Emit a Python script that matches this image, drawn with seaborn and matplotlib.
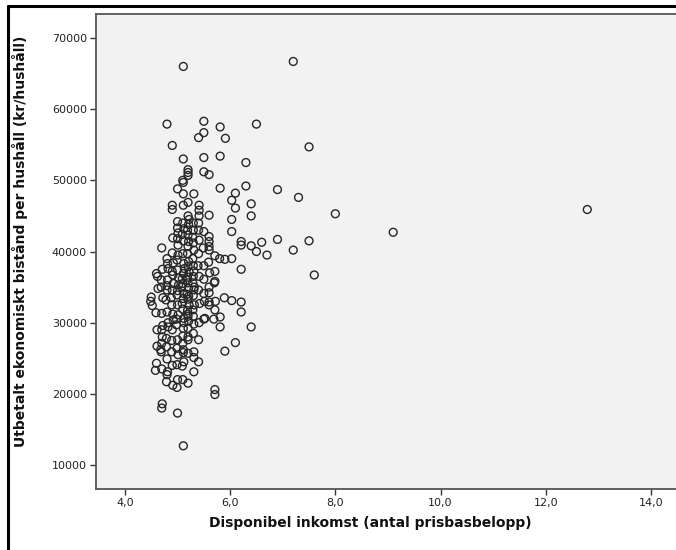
import matplotlib
matplotlib.use("Agg")
import matplotlib.pyplot as plt
from matplotlib.lines import Line2D
import seaborn as sns
import pandas as pd

# ---------------- data ----------------
inkomst = [
    # ~4.5
    4.50, 4.52, 4.49,
    # ~4.6
    4.60, 4.62, 4.59, 4.61, 4.60, 4.58, 4.61, 4.63,
    # ~4.7
    4.70, 4.71, 4.69, 4.70, 4.72, 4.70, 4.69, 4.71, 4.70, 4.68, 4.71, 4.70, 4.72, 4.69, 4.70,
    # ~4.8
    4.80, 4.80, 4.82, 4.79, 4.80, 4.81, 4.80, 4.79, 4.82, 4.80, 4.81, 4.78, 4.80, 4.82, 4.79, 4.81, 4.80,
    # ~4.9
    4.90, 4.90, 4.90, 4.91, 4.90, 4.92, 4.89, 4.90, 4.91, 4.90, 4.92, 4.89, 4.90, 4.91, 4.88, 4.92, 4.90, 4.89, 4.91,
    # ~5.0
    5.00, 5.00, 5.00, 5.01, 5.00, 4.99, 5.00, 5.01, 4.99, 5.00, 5.02, 4.99, 5.00, 5.01, 4.98, 5.00, 5.01, 4.99, 5.02, 5.00, 4.98, 5.01, 5.00, 4.99,
    # ~5.1
    5.11, 5.11, 5.10, 5.11, 5.11, 5.11, 5.10, 5.12, 5.09, 5.11, 5.10, 5.12, 5.11, 5.09, 5.10, 5.12, 5.11, 5.09, 5.10, 5.12,
    5.11, 5.10, 5.11, 5.12, 5.09, 5.10, 5.11, 5.13, 5.08, 5.12, 5.10, 5.11,
    # ~5.2
    5.20, 5.20, 5.20, 5.20, 5.20, 5.21, 5.19, 5.20, 5.21, 5.20, 5.19, 5.21, 5.20, 5.22, 5.19, 5.20, 5.21, 5.18, 5.20, 5.22,
    5.19, 5.20, 5.21, 5.20, 5.20, 5.20, 5.20, 5.20, 5.22, 5.18, 5.21, 5.19,
    # ~5.3
    5.31, 5.30, 5.30, 5.30, 5.31, 5.29, 5.30, 5.31, 5.30, 5.29, 5.31, 5.30, 5.32, 5.29, 5.30, 5.31, 5.31, 5.31, 5.31, 5.29, 5.32, 5.30,
    # ~5.4
    5.40, 5.41, 5.41, 5.41, 5.40, 5.40, 5.41, 5.40, 5.39, 5.41, 5.40, 5.42, 5.40, 5.40, 5.41,
    # ~5.5
    5.50, 5.50, 5.50, 5.50, 5.50, 5.50, 5.50, 5.50, 5.50, 5.51, 5.49, 5.52,
    # ~5.6
    5.60, 5.60, 5.60, 5.60, 5.60, 5.60, 5.60, 5.60, 5.60, 5.60, 5.61, 5.59,
    # ~5.7
    5.71, 5.71, 5.71, 5.70, 5.71, 5.71, 5.71, 5.69, 5.72,
    # ~5.8
    5.81, 5.81, 5.81, 5.81, 5.81, 5.80,
    # ~5.9
    5.91, 5.90, 5.90, 5.89,
    # sparse, right part
    6.03, 6.03, 6.03, 6.03, 6.03, 6.10, 6.10, 6.10, 6.21, 6.21, 6.21, 6.21, 6.21,
    6.30, 6.30, 6.40, 6.40, 6.40, 6.40, 6.50, 6.50, 6.60, 6.70, 6.90, 6.90,
    7.20, 7.20, 7.30, 7.50, 7.50, 7.60, 8.00, 9.10, 12.79,
]

bistand = [
    # ~4.5
    33600, 32400, 33000,
    # ~4.6
    36900, 36500, 31400, 26700, 24300, 23300, 29000, 34800,
    # ~4.7
    40500, 37500, 36000, 31300, 29600, 27100, 25900, 18600, 18000, 26200, 28000, 29000, 33500, 35000, 23500,
    # ~4.8
    57900, 39000, 37600, 26600, 24900, 23100, 22700, 21700, 29400, 34600, 36000, 33200, 31500, 30000, 27800, 38300, 35200,
    # ~4.9
    54900, 46500, 45900, 41900, 39800, 38400, 25900, 24000, 21200, 29000, 30400, 32500, 34600, 36700, 33500, 35500, 37200, 27500, 31200,
    # ~5.0
    48800, 44200, 43300, 42600, 22000, 20900, 17300, 40900, 38800, 37400, 35300, 33900, 32500, 31100, 29700, 27600, 25500, 24100, 36300, 34500, 30500, 39500, 41800, 26400,
    # ~5.1
    66000, 53000, 50000, 49700, 48100, 46500, 44000, 43200, 42400, 41500, 39700, 38300, 36900, 36200, 35500, 34100, 33400, 32700, 31900, 30600,
    29200, 27100, 25800, 24500, 23900, 22000, 12700, 37600, 35000, 30000, 28100, 26200,
    # ~5.2
    51500, 51100, 50700, 46900, 45000, 43800, 43000, 42300, 41400, 40700, 39700, 38600, 37900, 37100, 36400, 35600, 34800, 34000, 33300, 32500,
    31700, 30900, 30200, 29200, 28000, 27600, 25700, 21500, 44500, 36000, 33700, 31200,
    # ~5.3
    48100, 44000, 43000, 41200, 40200, 39000, 38000, 37200, 36500, 35600, 34600, 33800, 32500, 31800, 30900, 29800, 25900, 25100, 23100, 42000, 35000, 28500,
    # ~5.4
    56000, 46500, 45800, 45000, 44000, 43000, 41600, 39700, 38000, 36500, 34600, 32700, 27600, 24500, 30000,
    # ~5.5
    58300, 56700, 53200, 51200, 42800, 38000, 36100, 34100, 30500, 33000, 40500, 30600,
    # ~5.6
    50800, 45100, 42100, 41400, 40700, 40200, 35000, 34200, 32900, 32500, 37000, 38500,
    # ~5.7
    39400, 37200, 35800, 35600, 31800, 20600, 19900, 30500, 33000,
    # ~5.8
    57500, 53400, 48900, 30800, 29400, 39000,
    # ~5.9
    55900, 38900, 26000, 33500,
    # sparse, right part
    47200, 44500, 42800, 39000, 33100, 48200, 46100, 27200, 41400, 40900, 37500, 32900, 31500,
    52500, 49200, 46700, 45000, 40800, 29400, 57900, 40000, 41300, 39500, 48700, 41700,
    66700, 40200, 47600, 54700, 41500, 36700, 45300, 42700, 45900,
]

x_ticks = [4.0, 6.0, 8.0, 10.0, 12.0, 14.0]
x_tick_labels = ["4,0", "6,0", "8,0", "10,0", "12,0", "14,0"]
y_ticks = [10000, 20000, 30000, 40000, 50000, 60000, 70000]
y_tick_labels = ["10000", "20000", "30000", "40000", "50000", "60000", "70000"]

x_label = "Disponibel inkomst (antal prisbasbelopp)"
y_label = "Utbetalt ekonomiskt bistånd per hushåll (kr/hushåll)"

df = pd.DataFrame({"inkomst": inkomst, "bistand": bistand})

# ---------------- figure ----------------
sns.set_style("white", {"axes.facecolor": "#F2F2F2"})
plt.rcParams["font.family"] = ["DejaVu Sans"]

W, H = 676, 550
fig = plt.figure(figsize=(W / 100, H / 100), dpi=100)

left_px, top_px, bottom_px = 96, 14, 489
xlim = (3.45, 14.6)
px_per_unit = 52.6
width_px = (xlim[1] - xlim[0]) * px_per_unit
height_px = bottom_px - top_px
ax = fig.add_axes([left_px / W, (H - bottom_px) / H, width_px / W, height_px / H])

sns.scatterplot(data=df, x="inkomst", y="bistand", ax=ax,
                marker="o", s=32, facecolor="none", edgecolor="#262626",
                linewidth=1.0, legend=False)

ax.set_xlim(*xlim)
ax.set_ylim(6630, 73370)
ax.set_xticks(x_ticks)
ax.set_xticklabels(x_tick_labels)
ax.set_yticks(y_ticks)
ax.set_yticklabels(y_tick_labels)

for side in ["left", "bottom", "top", "right"]:
    ax.spines[side].set_color("#555555")
    ax.spines[side].set_linewidth(1.3)

ax.tick_params(axis="both", which="major", direction="out", length=4.5, width=1.0,
               color="#333333", labelsize=8, labelcolor="#222222", pad=2,
               left=True, bottom=True)

ax.set_xlabel(x_label, fontsize=10, fontweight="bold", color="#111111")
ax.set_ylabel(y_label, fontsize=10, fontweight="bold", color="#111111")
ax.xaxis.set_label_coords((370 - left_px) / width_px, (bottom_px - 516) / height_px)
ax.yaxis.set_label_coords((28 - left_px) / width_px, (bottom_px - 241) / height_px)

# black frame (left and top) of the screenshot
fig.add_artist(Line2D([8 / W, 8 / W], [-0.05, 1 - 6 / H], transform=fig.transFigure,
                      color="black", linewidth=2.2))
fig.add_artist(Line2D([8 / W, 1.05], [1 - 6 / H, 1 - 6 / H], transform=fig.transFigure,
                      color="black", linewidth=2.2))

fig.savefig("out.png", dpi=100)
